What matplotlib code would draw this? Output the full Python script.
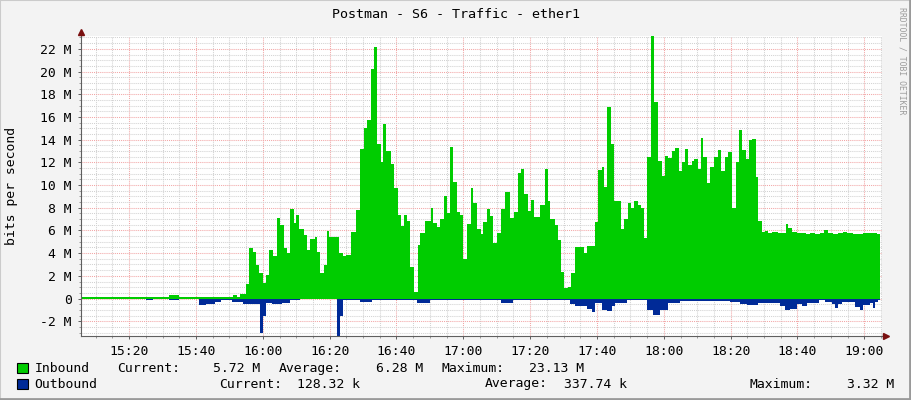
import matplotlib
matplotlib.use("Agg")
import matplotlib.pyplot as plt
from matplotlib.ticker import MultipleLocator, FuncFormatter
from matplotlib.patches import Rectangle
from matplotlib.lines import Line2D
import numpy as np

# data: time in minutes after 15:00, traffic in Mbit/s
t_start = 5.6
t_end = 245.2

in_t = [5.6, 32.0, 35.0, 51.0, 52.2, 53.2, 54.9, 56.0, 57.0, 58.0, 59.0, 60.0,
        61.0, 62.0, 63.0, 64.2, 65.2, 66.4, 67.2, 68.0, 69.2, 70.0, 70.9, 72.2,
        73.2, 74.2, 75.6, 76.3, 77.1, 78.3, 79.3, 79.9, 82.9, 84.1, 84.9, 86.3,
        87.9, 89.1, 90.3, 91.1, 92.3, 93.2, 94.1, 95.3, 96.1, 96.9, 98.4, 99.4,
        100.4, 101.4, 102.3, 103.1, 104.1, 105.3, 106.3, 106.9, 108.4, 110.3,
        111.0, 112.2, 113.1, 114.2, 115.1, 116.0, 116.8, 118.0, 119.0, 119.8,
        121.2, 122.2, 123.0, 124.2, 125.2, 126.0, 127.2, 128.0, 129.0, 130.2,
        131.2, 132.5, 134.0, 135.2, 136.5, 137.2, 138.2, 139.5, 140.3, 141.3,
        143.0, 144.3, 145.2, 146.0, 147.5, 148.3, 149.3, 150.2, 151.4, 152.2,
        153.4, 156.1, 157.1, 159.4, 160.2, 161.4, 162.1, 163.1, 164.2, 165.2,
        167.2, 168.2, 169.2, 170.2, 171.2, 172.2, 173.2, 174.2, 175.1, 176.3,
        177.1, 178.4, 179.4, 180.4, 181.4, 182.4, 183.4, 184.4, 185.4, 186.4,
        187.3, 188.4, 189.1, 190.2, 191.1, 191.8, 193.0, 193.8, 195.0, 196.3,
        197.0, 198.2, 199.3, 200.3, 201.5, 202.5, 203.3, 204.5, 205.5, 206.5,
        207.5, 208.3, 209.3, 210.3, 211.3, 212.3, 214.3, 215.3, 216.6, 217.3,
        218.3, 219.8, 221.3, 222.6, 223.8, 225.3, 226.8, 228.0, 229.2, 230.7,
        232.2, 233.5, 234.7, 236.7, 239.7, 240.7, 243.7, 244.7]
inbound = [0.15, 0.28, 0.15, 0.30, 0.15, 0.38, 1.27, 4.45, 4.10, 2.95, 2.27, 1.38,
           2.06, 4.27, 3.74, 7.08, 6.49, 4.42, 4.04, 7.88, 6.69, 7.37, 6.10, 5.60,
           4.27, 5.22, 5.40, 4.12, 2.27, 2.95, 5.98, 5.45, 4.04, 3.74, 3.80, 5.84,
           7.81, 13.21, 15.04, 15.72, 20.2, 22.2, 13.65, 12.0, 15.4, 12.97, 11.88, 9.73,
           7.37, 6.43, 7.37, 6.84, 2.80, 0.58, 4.72, 5.75, 6.84, 7.96,
           6.69, 6.34, 6.99, 8.99, 7.58, 13.33, 10.23, 7.66, 7.37, 3.48,
           6.55, 9.73, 8.46, 6.10, 5.69, 6.73, 7.88, 7.28, 4.87, 5.75,
           7.90, 9.35, 7.13, 7.66, 11.06, 11.42, 9.23, 7.75, 8.70, 7.17,
           8.26, 11.42, 8.61, 6.99, 6.49, 5.16, 2.35, 0.97, 1.06, 2.21,
           4.57, 4.04, 4.60, 6.72, 11.29, 11.59, 9.79, 16.9, 13.63, 8.61,
           6.13, 6.99, 8.40, 8.02, 8.61, 8.26, 8.02, 5.36, 12.44, 23.13,
           17.31, 12.09, 10.82, 12.59, 12.39, 13.04, 13.27, 11.2, 12.0, 13.19,
           11.8, 12.15, 12.3, 11.42, 14.16, 12.48, 10.18, 11.56, 12.48, 13.12,
           11.2, 12.44, 12.92, 7.96, 12.0, 14.89, 13.12, 12.33, 13.95, 14.07,
           10.7, 6.87, 5.90, 5.95, 5.80, 5.90, 5.75, 5.80, 6.57, 6.20,
           5.85, 5.75, 5.80, 5.65, 5.75, 5.70, 5.80, 6.00, 5.80, 5.65,
           5.75, 5.90, 5.75, 5.68, 5.80, 5.75, 5.72, 5.72]

out_t = [5.6, 25.1, 27.1, 32.0, 35.0, 41.0, 43.0, 45.7, 47.5, 50.8, 54.2, 59.2,
         60.0, 61.0, 62.7, 65.7, 68.2, 71.2, 82.1, 83.1, 83.9, 89.1, 92.7, 106.2,
         110.1, 131.2, 134.9, 152.0, 153.4, 156.9, 158.4, 159.4, 161.4, 162.9,
         164.4, 165.4, 168.9, 174.9, 176.9, 178.9, 181.4, 184.9, 196.9, 199.9,
         202.9, 204.9, 208.3, 209.8, 214.8, 216.3, 217.8, 219.8, 221.3, 222.8,
         226.3, 228.3, 230.3, 231.3, 232.2, 233.3, 237.3, 238.8, 239.7, 241.7,
         242.6, 243.2, 244.1, 244.7]
outbound = [0.03, 0.15, 0.03, 0.15, 0.03, 0.60, 0.50, 0.30, 0.10, 0.30, 0.50, 3.04,
            1.57, 0.40, 0.50, 0.40, 0.15, 0.08, 3.34, 1.57, 0.15, 0.30, 0.15, 0.40,
            0.15, 0.39, 0.15, 0.45, 0.68, 0.95, 1.18, 0.39, 0.97, 1.12,
            0.70, 0.39, 0.15, 0.97, 1.42, 0.97, 0.39, 0.20, 0.24, 0.30,
            0.44, 0.53, 0.38, 0.35, 0.68, 1.03, 0.88, 0.50, 0.65, 0.35,
            0.15, 0.30, 0.50, 0.80, 0.50, 0.30, 0.74, 0.97, 0.60, 0.40,
            0.80, 0.30, 0.15, 0.15]

in_stats = ["5.72 M", "6.28 M", "23.13 M"]
out_stats = ["128.32 k", "337.74 k", "3.32 M"]
title = "Postman - S6 - Traffic - ether1"
y_min, y_max = -3.30, 23.13

W, H = 911, 400
mono = "DejaVu Sans Mono"
fs = 9.45
bg = "#f3f3f3"
green = "#00cc00"
blue = "#002a97"

fig = plt.figure(figsize=(W / 100, H / 100), dpi=100, facecolor=bg)
ax = fig.add_axes([81 / W, 64 / H, (881.7 - 81) / W, 300 / H])
ax.set_facecolor("white")

ax.fill_between(in_t, 0, inbound, step="post", color=green, lw=0, zorder=3)
ax.fill_between(out_t, 0, -np.array(outbound), step="post", color=blue, lw=0, zorder=3)

ax.set_xlim(t_start, t_end)
ax.set_ylim(y_min, y_max)

ax.xaxis.set_major_locator(MultipleLocator(20))
ax.xaxis.set_minor_locator(MultipleLocator(5))
ax.yaxis.set_major_locator(MultipleLocator(2))
ax.yaxis.set_minor_locator(MultipleLocator(0.5))
ax.xaxis.set_major_formatter(FuncFormatter(
    lambda v, p: "%d:%02d" % (15 + int(v) // 60, int(v) % 60)))
ax.yaxis.set_major_formatter(FuncFormatter(
    lambda v, p: "0" if abs(v) < 1e-9 else "%g M" % v))

ax.grid(True, which="minor", color="#d2d2d2", lw=0.75, ls=(0, (1, 1)), zorder=1)
ax.grid(True, which="major", color="#f2a6a6", lw=0.75, ls=(0, (1, 1)), zorder=2)

for s in ["top", "right"]:
    ax.spines[s].set_visible(False)
for s in ["left", "bottom"]:
    ax.spines[s].set_color("#5f5f5f")
    ax.spines[s].set_linewidth(0.8)
    ax.spines[s].set_zorder(5)

ax.tick_params(which="major", direction="out", length=2.5, width=0.7,
               color="#5f5f5f", labelsize=fs, labelcolor="black", pad=4)
ax.tick_params(which="minor", direction="out", length=1.2, width=0.6,
               color="#8a8a8a")
for lab in ax.get_xticklabels() + ax.get_yticklabels():
    lab.set_fontfamily(mono)

# axis arrows
ax.plot([0], [1.012], marker="^", ms=4.5, color="#7a1010", transform=ax.transAxes,
        clip_on=False, zorder=6)
ax.plot([1.005], [0], marker=">", ms=4.5, color="#7a1010", transform=ax.transAxes,
        clip_on=False, zorder=6)
ax.plot([0, 0], [1, 1.012], color="#5f5f5f", lw=0.8, transform=ax.transAxes,
        clip_on=False, zorder=5)
ax.plot([1, 1.005], [0, 0], color="#5f5f5f", lw=0.8, transform=ax.transAxes,
        clip_on=False, zorder=5)

def px(x, y):
    return x / W, 1 - y / H

fig.text(*px(455.5, 14), title, ha="center", va="center", fontsize=9.6,
         family=mono)
fig.text(*px(12, 186), "bits per second", ha="center", va="center",
         rotation=90, fontsize=fs, family=mono)
fig.text(*px(902, 61), "RRDTOOL / TOBI OETIKER", ha="center", va="center",
         rotation=270, fontsize=5.9, family=mono, color="#9c9c9c")

# legend
rows = [
    (368.3, green, "Inbound", in_stats,
     [(116.7, "Current:"), (278.5, "Average:"), (441, "Maximum:")],
     [260, 422.8, 583.7]),
    (384.0, blue, "Outbound", out_stats,
     [(219.3, "Current:"), (484.3, "Average:"), (749.3, "Maximum:")],
     [360.4, 626.6, 894.3]),
]
for yc, col, name, stats, labels, rights in rows:
    x0, y0 = px(16.7, yc + 5)
    fig.add_artist(Rectangle((x0, y0), 11 / W, 10 / H, transform=fig.transFigure,
                             facecolor=col, edgecolor="black", lw=0.8))
    fig.text(*px(34.3, yc), name, ha="left", va="center", fontsize=fs, family=mono)
    for (lx, lt), rx, val in zip(labels, rights, stats):
        fig.text(*px(lx, yc), lt, ha="left", va="center", fontsize=fs, family=mono)
        fig.text(*px(rx, yc), val, ha="right", va="center", fontsize=fs, family=mono)

# image border
fig.add_artist(Line2D([0, 1], [0.999, 0.999], color="#cbcbcb", lw=1.5,
                      transform=fig.transFigure))
fig.add_artist(Line2D([0.0005, 0.0005], [0, 1], color="#cbcbcb", lw=1.5,
                      transform=fig.transFigure))
fig.add_artist(Line2D([0, 1], [0.002, 0.002], color="#9a9a9a", lw=2,
                      transform=fig.transFigure))
fig.add_artist(Line2D([0.999, 0.999], [0, 1], color="#9a9a9a", lw=2,
                      transform=fig.transFigure))

fig.savefig("out.png", dpi=100, facecolor=bg)
